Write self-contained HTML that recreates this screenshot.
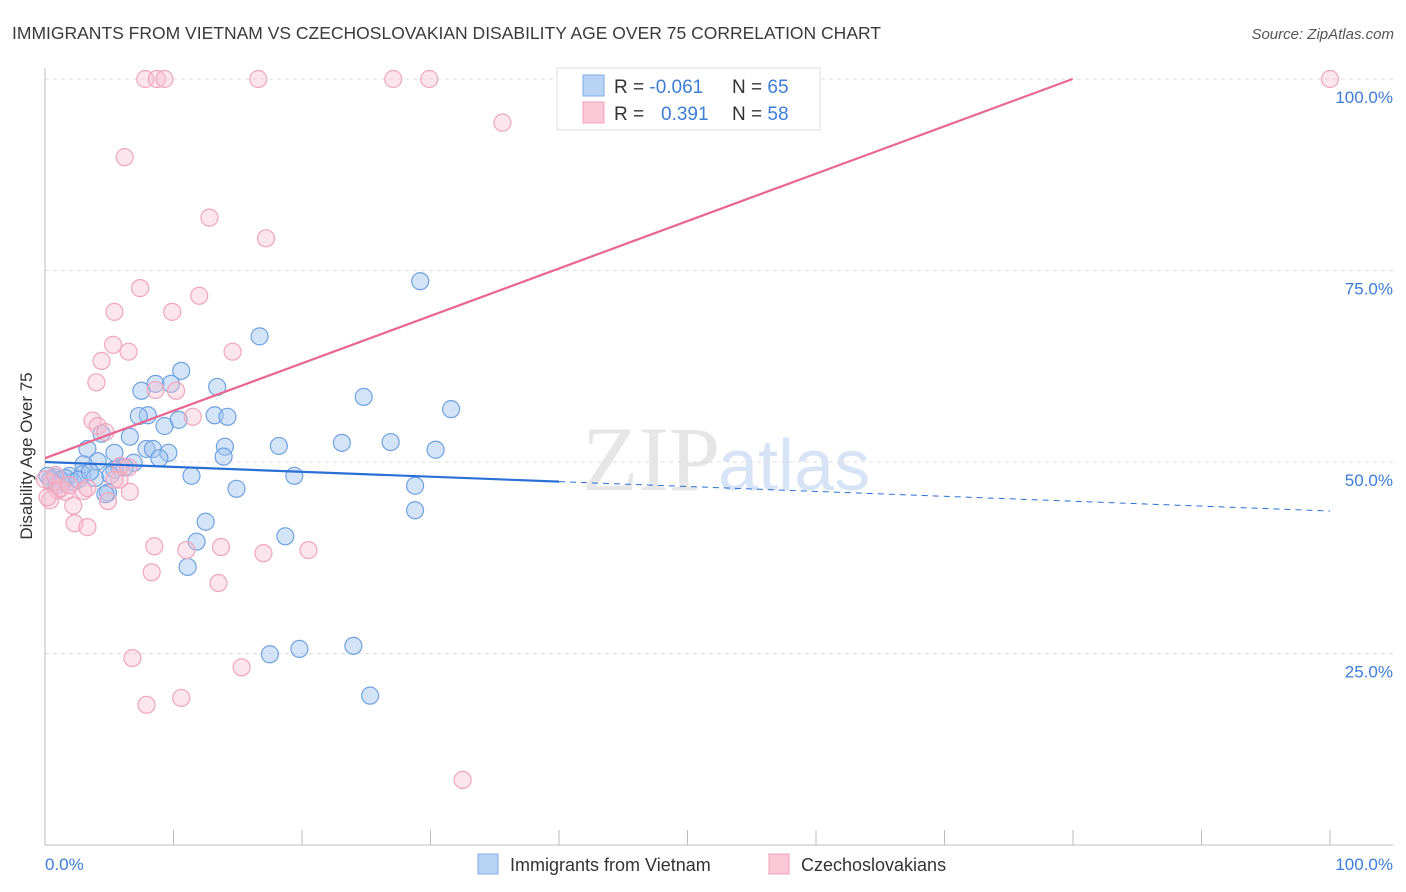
<!DOCTYPE html>
<html><head><meta charset="utf-8"><style>
body{margin:0;background:#fff;font-family:"Liberation Sans",sans-serif;}
svg{display:block}
</style></head><body>
<svg id="c" width="1406" height="892" xmlns="http://www.w3.org/2000/svg">
<text x="12" y="39" font-size="17.5" fill="#3a3a3a">IMMIGRANTS FROM VIETNAM VS CZECHOSLOVAKIAN DISABILITY AGE OVER 75 CORRELATION CHART</text>
<text x="1394" y="39" font-size="15" fill="#555" font-style="italic" text-anchor="end">Source: ZipAtlas.com</text>
<text x="720" y="490" font-size="92" fill="#e6e6e6" text-anchor="end" font-family="Liberation Serif,serif">ZIP</text>
<text x="718" y="490" font-size="72" fill="#d6e4f5">atlas</text>
<g id="grid"></g>
<g id="axes"></g>
<g id="pts"></g>
<g id="trend"></g>
<text x="32" y="456" font-size="17" fill="#333" text-anchor="middle" transform="rotate(-90 32 456)">Disability Age Over 75</text>
<text x="45" y="870" font-size="17" fill="#3d7dd8">0.0%</text>
<text x="1393" y="870" font-size="17" fill="#3d7dd8" text-anchor="end">100.0%</text>
<g>
<rect x="557" y="68" width="263" height="62" fill="#fff" stroke="#ddd"/>
<rect x="583" y="75" width="21" height="21" fill="#b9d3f5" stroke="#7eaee8"/>
<rect x="583" y="102" width="21" height="21" fill="#fac8d6" stroke="#f0a0b8"/>
<text x="614" y="93" font-size="19" fill="#333">R = <tspan fill="#3d7dd8">-0.061</tspan><tspan x="732">N = </tspan><tspan fill="#3d7dd8">65</tspan></text>
<text x="614" y="120" font-size="19" fill="#333">R = <tspan x="661" fill="#3d7dd8">0.391</tspan><tspan x="732">N = </tspan><tspan fill="#3d7dd8">58</tspan></text>
</g>
<g>
<rect x="478" y="854" width="20" height="20" fill="#b9d3f5" stroke="#7eaee8"/>
<text x="510" y="871" font-size="18" fill="#333">Immigrants from Vietnam</text>
<rect x="769" y="854" width="20" height="20" fill="#fac8d6" stroke="#f0a0b8"/>
<text x="801" y="871" font-size="18" fill="#333">Czechoslovakians</text>
</g>
</svg>
<script>
const yTicks=[25,50,75,100];
const yTickLabels=["25.0%","50.0%","75.0%","100.0%"];
const blueX=[29.2,16.7,10.6,8.6,9.8,13.4,7.5,24.8,31.6,8.0,7.3,13.2,14.2,10.4,9.3,4.4,6.6,23.1,26.9,18.2,14.0,7.9,8.4,3.3,30.4,9.6,5.4,8.9,13.9,4.1,3.0,6.9,5.8,6.2,5.4,11.4,19.4,2.9,1.9,0.8,1.4,3.9,0.4,2.2,14.9,28.8,4.9,4.7,12.5,28.8,18.7,11.8,11.1,17.5,19.8,24.0,25.3,1.2,1.6,0.2,2.6,3.5,5.1,0.5,0.9];
const blueY=[73.6,66.4,61.9,60.2,60.2,59.8,59.3,58.5,56.9,56.1,56.0,56.1,55.9,55.5,54.7,53.7,53.3,52.5,52.6,52.1,52.0,51.7,51.7,51.7,51.6,51.2,51.2,50.5,50.7,50.1,49.7,49.9,49.3,49.3,49.0,48.2,48.2,48.4,48.2,48.0,47.4,47.9,47.7,47.4,46.5,46.9,46.0,45.8,42.2,43.7,40.3,39.6,36.3,24.9,25.6,26.0,19.5,47.7,47.9,48.2,47.7,48.7,48.3,47.3,47.0];
const pinkX=[7.8,8.7,9.3,16.6,27.1,29.9,100,35.6,6.2,12.8,17.2,7.4,12.0,5.4,9.9,5.3,6.5,4.4,14.6,4.0,8.6,10.2,3.7,11.5,4.1,4.7,5.9,6.5,5.8,0.5,1.0,1.6,3.0,6.6,4.9,0.4,2.2,2.3,3.3,8.5,11.0,13.7,17.0,20.5,8.3,13.5,6.8,15.3,7.9,10.6,32.5,0.2,1.2,1.9,3.3,5.4,0,0.8];
const pinkY=[100,100,100,100,100,100,100,94.3,89.8,81.9,79.2,72.7,71.7,69.6,69.6,65.3,64.4,63.2,64.4,60.4,59.4,59.3,55.4,55.9,54.7,53.9,49.5,49.3,47.7,47.3,46.3,46.1,46.2,46.1,44.9,45.0,44.3,42.0,41.5,39.0,38.5,38.9,38.1,38.5,35.6,34.2,24.4,23.2,18.3,19.2,8.5,45.4,46.6,47.0,46.6,47.7,47.7,48.3];
const blueTrend=[50.0,43.6];
const pinkTrend=[50.5,112.4];
const NS="http://www.w3.org/2000/svg";
const X=v=>45+v*12.85, Y=v=>845-v*7.66;
function mk(t,a,p){const e=document.createElementNS(NS,t);for(const k in a)e.setAttribute(k,a[k]);p.appendChild(e);return e;}
const grid=document.getElementById('grid');
yTicks.forEach((t,i)=>{
 const l=mk('line',{x1:45,x2:1393,y1:Y(t),y2:Y(t),stroke:'#ddd','stroke-dasharray':'4,4'},grid);
 
 
 const tx=mk('text',{x:1393,y:Y(t)+24,'font-size':17,fill:'#3d7dd8','text-anchor':'end'},grid);
 tx.textContent=yTickLabels[i];
 
 
});
const ax=document.getElementById('axes');
const ya=mk('line',{x1:45,x2:45,y1:68,y2:845,stroke:'#bbb'},ax);


const xa=mk('line',{x1:45,x2:1393,y1:845,y2:845,stroke:'#bbb'},ax);


for(let i=0;i<=10;i++){const t=mk('line',{x1:X(i*10),x2:X(i*10),y1:830,y2:845,stroke:'#bbb'},ax);
 
 }
const pts=document.getElementById('pts');
blueX.forEach((x,i)=>{const c=mk('circle',{cx:X(x),cy:Y(blueY[i]),r:8.5,fill:'rgba(160,196,240,0.45)',stroke:'#6fa2e2','stroke-width':1.2},pts);
 
 });
pinkX.forEach((x,i)=>{const c=mk('circle',{cx:X(x),cy:Y(pinkY[i]),r:8.5,fill:'rgba(248,190,208,0.4)',stroke:'#f0a5bc','stroke-width':1.2},pts);
 
 });
const tr=document.getElementById('trend');
const bAt=x=>blueTrend[0]+(blueTrend[1]-blueTrend[0])*x/100;
const b1=mk('line',{x1:X(0),y1:Y(bAt(0)),x2:X(40),y2:Y(bAt(40)),stroke:'#2a6fd6','stroke-width':2.2},tr);


const b2=mk('line',{x1:X(40),y1:Y(bAt(40)),x2:X(100),y2:Y(bAt(100)),stroke:'#2a6fd6','stroke-width':1,'stroke-dasharray':'6,5'},tr);


const slope=(pinkTrend[1]-pinkTrend[0])/100;
const xEnd=Math.min(100,(100-pinkTrend[0])/slope);
const p1=mk('line',{x1:X(0),y1:Y(pinkTrend[0]),x2:X(xEnd),y2:Y(pinkTrend[0]+slope*xEnd),stroke:'#e8668f','stroke-width':2.2},tr);


</script>
</body></html>
